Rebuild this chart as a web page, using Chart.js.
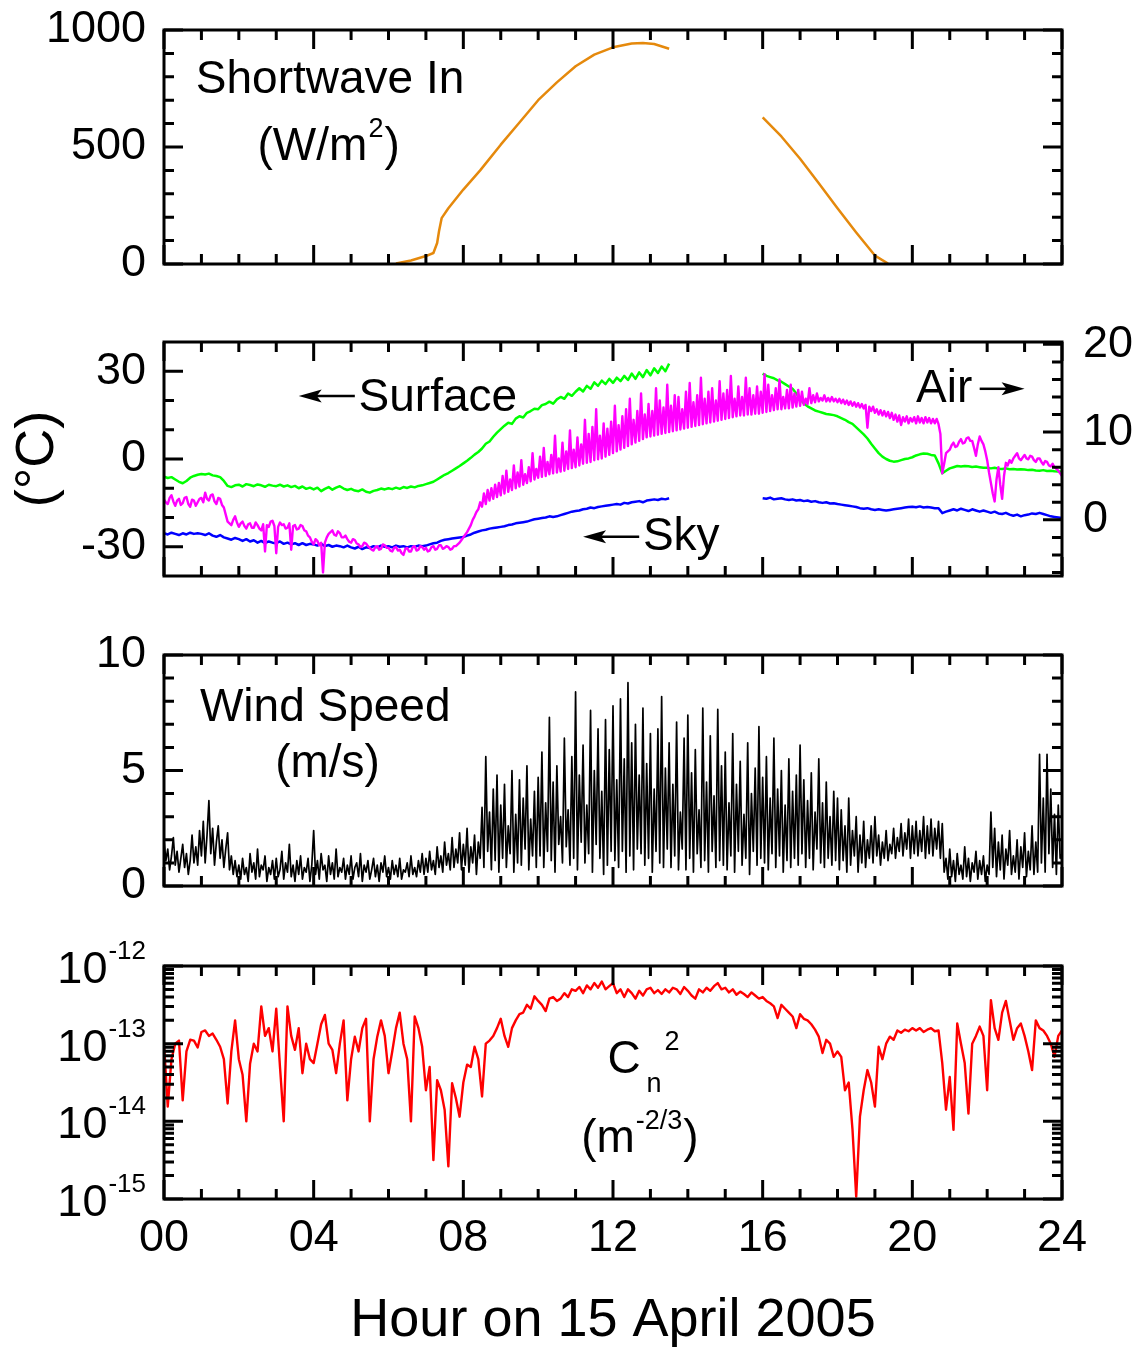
<!DOCTYPE html>
<html>
<head>
<meta charset="utf-8">
<title>Hour on 15 April 2005</title>
<script src="https://cdn.jsdelivr.net/npm/chart.js@4.4.1/dist/chart.umd.min.js"></script>
<style>
  html, body { margin: 0; padding: 0; background: #fff; }
  #page { position: relative; width: 1135px; height: 1349px; overflow: hidden; }
  #page canvas { position: absolute; left: 0; }
</style>
</head>
<body>
<div id="page">
  <canvas id="swChart" width="1135" height="294" style="top:0px"></canvas>
  <canvas id="tempChart" width="1135" height="301" style="top:305px"></canvas>
  <canvas id="windChart" width="1135" height="301" style="top:615px"></canvas>
  <canvas id="cn2Chart" width="1135" height="429" style="top:920px"></canvas>
</div>
<script>
// sampling times (hours): every 6 minutes, and every 3 minutes for the noisy series
const hours = Array.from({ length: 241 }, (_, i) => i / 10);
const fineHours = Array.from({ length: 481 }, (_, i) => i / 20);

// shortwave in (W/m2); null = missing data
const swHours  = [6.2, 6.6, 7.0, 7.2, 7.3, 7.35, 7.42, 7.6, 8.0, 8.45, 9.0, 9.5, 10.0, 10.5, 11.0, 11.5, 12.0, 12.5, 12.8, 13.1, 13.5, 14.8, 16.0, 16.5, 17.0, 17.5, 18.0, 18.5, 19.0, 19.35];
const swValues = [2, 15, 34, 47, 90, 140, 196, 238, 318, 400, 510, 605, 700, 776, 845, 895, 926, 942, 944, 940, 920, null, 627, 545, 450, 345, 238, 135, 36, 2];

// surface temperature (degC, left axis), 6-minute readings
const surfaceTemp = [
  -6.0, -6.5, -6.2, -7.0, -7.8, -8.3, -7.5, -6.4, -5.8, -5.4,
  -5.1, -5.3, -5.0, -5.6, -5.8, -6.2, -7.5, -9.2, -9.6, -9.0,
  -8.8, -9.4, -8.6, -8.9, -9.3, -8.7, -9.0, -9.5, -8.8, -9.1,
  -9.3, -8.8, -9.4, -9.0, -9.6, -9.2, -10.0, -9.4, -10.2, -9.8,
  -10.4, -9.8, -11.0, -10.2, -9.6, -10.5, -9.8, -9.3, -10.1, -10.6,
  -10.2, -10.8, -11.0, -10.4, -11.2, -11.5, -10.9, -10.6, -10.1, -10.4,
  -10.0, -10.3, -9.8, -10.2, -9.6, -9.9, -9.4, -9.7, -9.2, -9.0,
  -8.6, -8.2, -7.8, -7.0, -6.2, -5.4, -4.8, -4.0, -3.2, -2.4,
  -1.5, -0.6, 0.4, 1.5, 2.4, 3.6, 5.2, 6.0, 7.6, 9.0,
  10.2, 11.4, 12.4, 12.0, 13.8, 14.6, 14.2, 15.8, 16.4, 17.2,
  17.0, 18.4, 18.8, 19.6, 18.9, 20.4, 21.2, 20.6, 22.4, 21.6,
  23.0, 24.2, 23.1, 25.0, 24.0, 26.2, 25.0, 26.8, 25.6, 27.4,
  26.0, 27.8, 26.6, 28.4, 27.0, 29.2, 27.4, 29.6, 28.0, 30.4,
  28.6, 31.0, 29.4, 31.6, 30.0, 32.6, null, null, null, null,
  null, null, null, null, null, null, null, null, null, null,
  null, null, null, null, null, null, null, null, null, null,
  29.2, 28.4, 28.0, 27.6, 26.9, 26.4, 25.6, 24.8, 24.0, 22.4,
  20.6, 19.0, 18.0, 17.3, 16.6, 16.2, 15.8, 15.4, 15.2, 15.0,
  14.6, 14.0, 13.4, 12.6, 12.0, 10.8, 9.6, 8.4, 7.0, 5.2,
  3.6, 2.0, 0.8, 0.0, -0.6, -0.9, -0.8, -0.4, 0.0, 0.2,
  0.6, 1.2, 1.6, 1.9, 1.8, 1.4, 1.2, -1.5, -4.9, -4.0,
  -3.2, -2.8, -2.4, -2.6, -2.4, -2.5, -2.7, -2.6, -2.8, -3.0,
  -3.0, -3.2, -3.0, -3.3, -3.4, -3.2, -3.5, -3.4, -3.6, -3.5,
  -3.6, -3.8, -3.7, -3.9, -4.0, -3.8, -4.1, -4.0, -4.2, -4.3,
  -4.4
];

// sky temperature (degC, left axis), 6-minute readings
const skyTemp = [
  -25.4, -25.8, -25.2, -25.6, -26.0, -25.4, -25.8, -25.2, -25.6, -25.4,
  -25.6, -26.0, -25.4, -26.2, -26.6, -26.0, -26.8, -27.2, -27.6, -27.0,
  -27.4, -28.0, -27.4, -28.2, -27.8, -28.6, -28.0, -28.8, -28.2, -28.6,
  -28.8, -28.2, -29.0, -28.6, -29.2, -28.8, -29.4, -28.8, -29.4, -29.0,
  -29.2, -29.6, -29.0, -29.8, -29.4, -30.0, -29.6, -29.8, -30.2, -29.6,
  -30.2, -30.6, -30.0, -30.8, -30.2, -30.4, -29.8, -30.2, -29.6, -30.0,
  -29.8, -30.2, -29.6, -30.0, -29.8, -30.2, -29.8, -30.0, -29.6, -29.8,
  -29.6, -29.2, -28.8, -28.6, -28.0, -27.6, -27.4, -27.2, -27.0, -26.8,
  -26.7, -26.2, -25.8, -25.2, -24.8, -24.4, -24.2, -23.8, -23.6, -23.4,
  -23.2, -23.0, -22.6, -22.4, -22.0, -21.8, -21.6, -21.4, -21.0, -20.6,
  -20.4, -20.2, -20.0, -19.6, -19.8, -19.6, -19.2, -18.8, -18.4, -18.0,
  -17.8, -17.6, -17.2, -17.0, -16.6, -16.8, -16.4, -16.2, -16.0, -15.8,
  -15.6, -15.4, -15.6, -15.0, -15.2, -14.8, -14.6, -14.4, -14.8, -14.2,
  -14.0, -13.8, -14.0, -13.6, -13.8, -13.4, null, null, null, null,
  null, null, null, null, null, null, null, null, null, null,
  null, null, null, null, null, null, null, null, null, null,
  -13.4, -13.6, -13.2, -13.8, -13.6, -13.4, -13.8, -14.0, -13.8, -14.2,
  -14.0, -14.4, -14.2, -14.6, -14.4, -14.8, -15.0, -14.8, -15.2, -15.1,
  -15.4, -15.6, -15.8, -16.0, -16.2, -16.4, -16.8, -17.0, -16.8, -17.2,
  -17.4, -17.2, -17.4, -17.6, -17.4, -17.2, -17.0, -16.8, -16.6, -16.4,
  -16.3, -16.5, -16.2, -16.6, -16.4, -16.6, -16.8, -16.8, -18.5, -18.0,
  -17.6, -17.2, -17.6, -17.0, -17.4, -17.8, -17.2, -17.6, -18.0, -17.6,
  -18.0, -18.4, -18.0, -18.6, -18.8, -18.4, -19.0, -19.4, -19.0, -19.6,
  -19.2, -19.0, -18.6, -18.8, -18.4, -18.8, -19.2, -19.6, -19.8, -20.0,
  -20.2
];

// air temperature (degC, right axis), 3-minute readings
const airTemp = [
  2.3, 2.0, 1.8, 2.5, 2.8, 2.1, 1.6, 2.2, 2.4, 1.7, 1.9, 2.5, 2.6, 1.8, 1.5, 2.3, 2.2, 1.6, 2.0, 2.4,
  2.5, 2.0, 3.1, 2.4, 2.2, 2.8, 2.9, 2.1, 1.8, 2.5, 2.4, 1.7, 1.4, 0.6, -0.2, -0.4, -0.6, 0.0, 0.4, -0.3,
  -0.8, -0.4, -0.2, -0.7, -1.0, -0.5, -0.4, -0.9, -0.9, -0.3, -0.6, -1.0, -1.2, -0.5, -3.6, -0.6, -0.8, -0.2, -0.1, -0.7,
  -3.8, -0.8, -0.3, -0.6, -0.5, -1.0, -0.9, -0.4, -3.4, -0.7, -0.6, -1.1, -1.0, -0.6, -0.7, -1.2, -1.3, -1.8, -2.0, -2.5,
  -2.8, -2.2, -2.4, -2.9, -2.6, -6.0, -2.6, -2.0, -1.6, -1.4, -1.2, -1.7, -1.8, -1.3, -1.5, -2.0, -2.0, -1.8, -2.2, -2.5,
  -2.6, -2.2, -2.3, -2.7, -2.8, -3.1, -3.0, -2.6, -2.7, -3.0, -3.2, -3.4, -3.5, -3.1, -3.0, -3.4, -3.3, -2.8, -2.9, -3.2,
  -3.2, -3.5, -3.6, -3.2, -3.1, -3.5, -3.4, -3.8, -4.0, -3.3, -3.2, -3.6, -3.6, -3.1, -3.0, -3.5, -3.4, -3.0, -3.1, -3.4,
  -3.2, -3.6, -3.5, -3.1, -3.0, -3.4, -3.3, -2.9, -2.9, -3.3, -3.2, -3.0, -3.1, -3.4, -3.3, -3.0, -3.0, -2.8, -2.6, -2.3,
  -2.0, -1.7, -1.4, -1.0, -0.6, 0.0, 0.4, 0.9, 1.2, 2.0, 1.5, 3.0, 1.8, 3.4, 2.2, 3.6, 2.4, 4.0, 2.6, 4.2,
  2.8, 5.0, 3.0, 5.6, 3.2, 4.6, 3.4, 6.2, 3.6, 5.4, 3.8, 6.8, 4.0, 5.2, 4.2, 6.0, 4.4, 7.6, 4.6, 5.8,
  4.8, 7.2, 4.9, 8.2, 5.0, 6.6, 5.2, 7.4, 5.3, 9.6, 5.4, 7.0, 5.5, 8.8, 5.6, 7.8, 5.8, 10.2, 5.9, 8.0,
  6.0, 9.4, 6.2, 8.6, 6.4, 11.4, 6.5, 9.8, 6.6, 10.6, 6.8, 12.6, 6.9, 9.6, 7.0, 11.0, 7.2, 10.4, 7.4, 11.2,
  7.6, 13.0, 7.8, 10.8, 8.0, 11.8, 8.2, 12.6, 8.4, 13.8, 8.6, 11.4, 8.8, 12.4, 9.0, 14.4, 9.2, 12.0, 9.4, 13.2,
  9.5, 12.4, 9.6, 15.0, 9.7, 13.6, 9.8, 12.8, 9.9, 15.4, 10.0, 13.0, 10.1, 14.2, 10.2, 14.0, 10.3, 12.6, 10.4, 14.6,
  10.5, 15.6, 10.6, 13.4, 10.7, 14.2, 10.8, 16.2, 10.9, 13.8, 11.0, 14.6, 11.1, 15.0, 11.2, 13.6, 11.3, 15.8, 11.4, 14.4,
  11.5, 14.8, 11.6, 16.4, 11.7, 13.8, 11.8, 15.2, 11.9, 14.0, 11.9, 16.2, 12.0, 15.0, 12.0, 14.2, 12.1, 15.2, 12.1, 14.6,
  12.2, 16.6, 12.3, 15.4, 12.4, 14.2, 12.5, 15.0, 12.6, 16.0, 12.6, 14.0, 12.7, 14.8, 12.7, 15.4, 12.8, 14.4, 12.9, 14.8,
  13.0, 14.6, 13.1, 13.8, 13.2, 15.0, 13.3, 14.2, 13.4, 14.4, 13.5, 13.9, 13.6, 14.2, 13.5, 13.9, 13.5, 14.0, 13.5, 13.8,
  13.4, 13.8, 13.3, 13.7, 13.2, 13.6, 13.1, 13.5, 13.0, 13.4, 12.9, 13.3, 12.8, 13.2, 12.7, 13.1, 10.5, 12.9, 12.4, 12.9,
  12.2, 12.6, 12.0, 12.5, 11.9, 12.4, 11.8, 12.3, 11.6, 12.2, 11.4, 12.0, 11.2, 11.9, 10.8, 11.7, 11.2, 11.8, 11.0, 11.6,
  11.2, 11.7, 11.0, 11.8, 11.1, 11.6, 11.0, 11.7, 11.1, 11.6, 11.0, 11.5, 11.0, 11.5, 10.9, 9.8, 5.3, 6.4, 7.6, 7.8,
  8.0, 8.5, 8.8, 8.3, 8.4, 8.9, 9.2, 8.7, 8.8, 9.3, 9.4, 9.0, 9.0, 8.2, 7.3, 8.6, 9.5, 9.0, 8.6, 7.8,
  6.8, 5.4, 4.2, 3.0, 2.1, 4.6, 6.0, 4.0, 2.4, 5.0, 6.5, 6.2, 6.8, 6.5, 7.0, 7.3, 7.6, 7.0, 6.8, 7.1,
  7.4, 7.0, 6.9, 7.3, 7.2, 6.8, 6.6, 7.0, 7.0, 6.6, 6.3, 6.7, 6.6, 6.2, 6.1, 6.4, 6.0, 5.8, 5.6, 5.3,
  5.0
];

// wind speed (m/s), 3-minute readings
const windSpeed = [
  2.0, 1.1, 1.6, 0.7, 1.3, 2.1, 0.9, 1.5, 0.6, 1.2, 1.8, 0.8, 1.4, 0.5, 1.1, 2.2, 1.0, 1.7, 0.9, 2.4,
  1.3, 2.8, 1.0, 2.2, 3.7, 1.4, 2.5, 0.9, 1.9, 2.6, 1.2, 2.0, 0.8, 1.6, 2.3, 0.7, 1.3, 0.5, 1.1, 0.4,
  0.9, 0.3, 1.2, 0.5, 0.8, 0.2, 1.4, 0.6, 1.0, 0.3, 1.6, 0.4, 0.9, 0.7, 1.3, 0.2, 0.8, 0.5, 1.1, 0.3,
  1.2, 0.4, 0.7, 1.5, 0.3, 1.0, 0.6, 1.8, 0.4, 0.9, 0.2, 1.1, 0.5, 1.3, 0.3, 0.8, 0.6, 1.2, 0.2, 0.9,
  2.4, 0.5, 1.1, 0.3, 1.4, 0.7, 0.9, 0.2, 1.3, 0.5, 1.0, 0.3, 1.6, 0.4, 0.8, 0.6, 1.2, 0.3, 0.9, 0.5,
  1.3, 0.3, 0.8, 1.0, 0.4, 1.4, 0.2, 0.9, 0.6, 1.1, 0.3, 0.7, 1.2, 0.4, 0.9, 0.2, 1.0, 0.6, 1.3, 0.4,
  0.8, 0.3, 1.1, 0.5, 0.9, 0.4, 1.2, 0.3, 0.7, 0.6, 1.0, 0.4, 1.3, 0.5, 0.8, 0.4, 1.1, 0.6, 1.4, 0.5,
  1.2, 0.6, 1.5, 0.7, 1.1, 0.5, 1.7, 0.8, 1.3, 0.6, 1.9, 0.9, 1.4, 0.7, 2.1, 0.8, 1.6, 1.0, 2.3, 0.7,
  1.8, 0.9, 2.5, 0.6, 1.7, 1.0, 2.2, 0.5, 1.9, 1.2, 3.4, 0.8, 5.6, 1.5, 3.2, 0.7, 4.2, 1.1, 4.8, 0.6,
  3.5, 1.2, 4.4, 0.8, 2.6, 1.4, 5.0, 0.6, 3.1, 1.0, 4.6, 0.9, 3.8, 1.6, 5.2, 0.7, 2.9, 1.3, 4.1, 0.8,
  4.7, 1.3, 5.8, 0.8, 3.6, 1.5, 7.3, 1.1, 4.5, 0.6, 5.2, 1.8, 3.0, 1.0, 6.4, 1.7, 3.3, 0.9, 5.6, 1.2,
  8.4, 0.7, 4.8, 1.9, 6.1, 1.0, 3.5, 1.4, 7.6, 0.6, 5.0, 1.8, 6.8, 1.2, 4.1, 0.5, 7.2, 0.9, 5.9, 1.5,
  7.8, 1.1, 4.6, 0.8, 8.1, 1.5, 5.5, 0.6, 8.8, 1.3, 6.2, 0.7, 7.0, 1.6, 4.8, 1.4, 7.7, 0.9, 5.3, 1.2,
  6.6, 0.6, 4.2, 1.5, 6.8, 1.0, 8.2, 0.8, 5.1, 1.6, 6.2, 0.8, 4.4, 1.3, 7.1, 0.7, 3.2, 1.6, 6.4, 0.7,
  7.4, 1.2, 4.9, 0.6, 5.9, 1.4, 3.3, 0.8, 7.7, 1.1, 4.5, 0.6, 6.5, 1.5, 3.9, 0.8, 7.65, 1.1, 5.2, 0.9,
  5.8, 0.7, 3.6, 1.3, 6.6, 0.6, 4.4, 1.5, 5.4, 0.9, 3.1, 1.2, 6.2, 0.5, 4.0, 1.5, 5.1, 0.9, 6.9, 1.2,
  4.7, 1.0, 5.6, 0.7, 3.8, 1.4, 6.4, 0.8, 4.2, 1.3, 5.0, 0.6, 3.5, 1.1, 5.5, 0.8, 4.1, 1.2, 4.8, 0.9,
  6.1, 1.4, 4.6, 0.8, 3.7, 1.2, 4.9, 0.7, 3.2, 1.6, 5.5, 1.0, 3.6, 0.8, 4.5, 1.2, 3.0, 0.9, 4.1, 1.1,
  3.8, 0.7, 3.3, 1.1, 2.6, 0.6, 3.8, 0.9, 2.4, 1.3, 3.0, 0.6, 2.2, 1.0, 2.8, 0.8, 2.0, 1.2, 2.6, 1.0,
  3.0, 1.3, 2.2, 0.9, 1.9, 1.2, 2.4, 1.1, 1.8, 1.4, 2.5, 1.2, 2.1, 1.5, 2.7, 1.3, 2.3, 1.6, 2.9, 1.2,
  2.6, 1.4, 2.8, 1.3, 2.4, 1.5, 3.0, 1.2, 2.6, 1.4, 2.9, 1.3, 2.5, 1.6, 2.8, 1.2, 2.7, 0.6, 1.2, 0.3,
  1.6, 0.4, 1.1, 0.2, 1.4, 0.5, 0.9, 0.3, 1.7, 0.4, 1.2, 0.2, 1.0, 0.6, 1.5, 0.3, 1.1, 0.5, 1.3, 0.2,
  0.9, 0.5, 3.2, 0.8, 2.5, 0.4, 1.9, 0.7, 2.2, 0.3, 1.6, 0.9, 2.4, 0.5, 1.3, 0.6, 2.0, 0.3, 1.7, 0.8,
  2.3, 0.4, 1.5, 0.7, 2.6, 0.5, 1.9, 0.6, 5.7, 1.0, 3.8, 0.6, 5.7, 1.4, 4.2, 0.8, 3.1, 0.5, 3.5, 1.2,
  1.4
];

// Cn2, stored as log10 of the value (m^-2/3), 6-minute readings
const cn2Log = [
  -13.0, -13.81, -13.2, -13.0, -12.96, -13.73, -13.1, -12.95, -12.96, -13.05,
  -12.85, -12.83, -12.9, -12.87, -12.95, -13.04, -13.2, -13.77, -13.1, -12.7,
  -13.2, -13.4, -14.0, -13.26, -13.0, -13.1, -12.52, -12.9, -12.8, -13.1,
  -12.55, -13.3, -14.0, -12.52, -12.9, -13.08, -12.8, -13.38, -13.0, -13.2,
  -13.25, -13.0, -12.75, -12.63, -13.0, -13.08, -13.38, -13.0, -12.7, -13.73,
  -13.2, -12.91, -13.1, -12.8, -12.68, -14.0, -13.2, -12.91, -12.7, -12.9,
  -13.38, -13.1, -12.8, -12.6, -13.0, -13.2, -14.0, -12.65, -12.8, -13.04,
  -13.6, -13.3, -14.5, -13.47, -13.6, -13.85, -14.58, -13.51, -13.7, -13.94,
  -13.5, -13.27, -13.3, -13.04, -13.2, -13.68, -13.0, -12.96, -12.9, -12.8,
  -12.68, -12.9, -13.04, -12.8, -12.7, -12.62, -12.6, -12.5, -12.55, -12.39,
  -12.45, -12.5, -12.58, -12.42, -12.4, -12.45, -12.42, -12.35, -12.4, -12.3,
  -12.32, -12.27, -12.35, -12.25, -12.3, -12.22, -12.28, -12.2, -12.3, -12.26,
  -12.22, -12.35, -12.3, -12.4, -12.3, -12.35, -12.42, -12.32, -12.38, -12.3,
  -12.28, -12.35, -12.31, -12.36, -12.3, -12.34, -12.28, -12.3, -12.36, -12.27,
  -12.32, -12.38, -12.42, -12.3, -12.34, -12.28, -12.32, -12.26, -12.22, -12.3,
  -12.28, -12.34, -12.3, -12.37, -12.33, -12.36, -12.4, -12.34, -12.38, -12.42,
  -12.4, -12.45, -12.48, -12.52, -12.67, -12.5, -12.55, -12.6, -12.65, -12.8,
  -12.62, -12.68, -12.7, -12.75, -12.82, -12.91, -13.12, -12.95, -13.0, -13.17,
  -13.1, -13.17, -13.6, -13.5, -14.1, -14.97, -13.94, -13.6, -13.34, -13.5,
  -13.81, -13.04, -13.2, -13.0, -12.91, -12.95, -12.83, -12.86, -12.82, -12.84,
  -12.8, -12.83, -12.8, -12.85, -12.82, -12.8, -12.84, -12.83, -13.25, -13.85,
  -13.43, -14.11, -12.74, -13.0, -13.25, -13.9, -13.0, -12.9, -12.78, -12.9,
  -13.6, -12.44, -12.8, -12.95, -12.6, -12.45, -12.7, -12.95, -12.8, -12.74,
  -12.9, -13.1, -13.34, -12.7, -12.8, -12.83, -12.9, -13.0, -13.17, -12.9,
  -12.83
];

// axis ticks
const xMajor = [0, 4, 8, 12, 16, 20, 24];
const hourTicks = Array.from({ length: 25 }, (_, i) => i);
const swMajor = [0, 500, 1000];
const swMinor = [100, 200, 300, 400, 600, 700, 800, 900];
const tempMajor = [-30, 0, 30];
const tempMinor = [-20, -10, 10, 20];
const airMajor = [0, 10, 20];
const airMinor = [-6, -4, -2, 2, 4, 6, 8, 12, 14, 16, 18];
const windMajor = [0, 5, 10];
const windMinor = [1, 2, 3, 4, 6, 7, 8, 9];
const cn2Exp = [-15, -14, -13, -12];
const cn2Major = cn2Exp.map(e => Math.pow(10, e));
const cn2Minor = [];
[-15, -14, -13].forEach(e => { for (let k = 2; k <= 9; k++) cn2Minor.push(k * Math.pow(10, e)); });

const FONT = "'Liberation Sans', Arial, sans-serif";
const TICK_SIZE = 45;
const NOTE_SIZE = 46;
const SUP_SIZE = 27;
const PLOT_LEFT = 164;
const RIGHT_GAP = 73;

const pts = (xs, ys) => ys.map((v, i) => ({ x: xs[i], y: v }));

// frame + inward ticks on all four sides
const framePlugin = {
  id: 'frame',
  afterDatasetsDraw(chart, args, opts) {
    const { ctx, chartArea: a, scales } = chart;
    ctx.save();
    ctx.strokeStyle = '#000';
    ctx.lineWidth = 3;
    ctx.lineCap = 'butt';
    ctx.beginPath();
    hourTicks.forEach(h => {
      const px = scales.x.getPixelForValue(h);
      const len = xMajor.includes(h) ? 19 : 10;
      ctx.moveTo(px, a.bottom); ctx.lineTo(px, a.bottom - len);
      ctx.moveTo(px, a.top); ctx.lineTo(px, a.top + len);
    });
    [['left', a.left, 1], ['right', a.right, -1]].forEach(([side, x0, dir]) => {
      const o = opts[side];
      if (!o) return;
      const sc = scales[o.scale];
      o.major.forEach(v => { const py = sc.getPixelForValue(v); ctx.moveTo(x0, py); ctx.lineTo(x0 + dir * 19, py); });
      o.minor.forEach(v => { const py = sc.getPixelForValue(v); ctx.moveTo(x0, py); ctx.lineTo(x0 + dir * 10, py); });
    });
    ctx.stroke();
    ctx.strokeRect(a.left, a.top, a.width, a.height);
    ctx.restore();
  }
};

// panel captions, arrows, rotated unit and log tick labels
const notesPlugin = {
  id: 'notes',
  afterDraw(chart, args, opts) {
    const { ctx, chartArea: a, scales } = chart;
    ctx.save();
    ctx.fillStyle = '#000';
    ctx.strokeStyle = '#000';
    ctx.textBaseline = 'alphabetic';
    (opts.items || []).forEach(it => {
      const sc = scales[it.scale || 'y'];
      if (it.type === 'text') {
        let x = scales.x.getPixelForValue(it.h);
        const y = sc.getPixelForValue(it.v);
        ctx.textAlign = 'left';
        it.parts.forEach(([t, size, dy, gap]) => {
          ctx.font = size + 'px ' + FONT;
          x += gap || 0;
          ctx.fillText(t, x, y + (dy || 0));
          x += ctx.measureText(t).width;
        });
      } else if (it.type === 'arrow') {
        const x1 = scales.x.getPixelForValue(it.h1);
        const x2 = scales.x.getPixelForValue(it.h2);
        const y = sc.getPixelForValue(it.v);
        const head = it.dir === 'left' ? x1 : x2;
        const tail = it.dir === 'left' ? x2 : x1;
        const s = it.dir === 'left' ? 1 : -1;
        ctx.lineWidth = 2.5;
        ctx.beginPath();
        ctx.moveTo(tail, y); ctx.lineTo(head + s * 14, y);
        ctx.stroke();
        ctx.beginPath();
        ctx.moveTo(head, y);
        ctx.lineTo(head + s * 23, y - 6.5);
        ctx.lineTo(head + s * 18, y);
        ctx.lineTo(head + s * 23, y + 6.5);
        ctx.closePath();
        ctx.fill();
      } else if (it.type === 'vtext') {
        ctx.translate(a.left - it.dx, (a.top + a.bottom) / 2);
        ctx.rotate(-Math.PI / 2);
        ctx.textAlign = 'center';
        ctx.textBaseline = 'middle';
        ctx.font = it.size + 'px ' + FONT;
        ctx.fillText(it.text, 0, 0);
        ctx.setTransform(1, 0, 0, 1, 0, 0);
        ctx.textBaseline = 'alphabetic';
      } else if (it.type === 'logLabels') {
        it.exps.forEach(e => {
          const y = sc.getPixelForValue(Math.pow(10, e));
          const right = a.left - 18;
          ctx.textAlign = 'right';
          ctx.font = '26px ' + FONT;
          const ex = String(e);
          ctx.fillText(ex, right, y - 7);
          const w = ctx.measureText(ex).width;
          ctx.font = TICK_SIZE + 'px ' + FONT;
          ctx.fillText('10', right - w - 1, y + 17);
        });
      }
    });
    ctx.restore();
  }
};

Chart.register(framePlugin, notesPlugin);

function xAxis(show) {
  return {
    type: 'linear', min: 0, max: 24, display: show,
    grid: { display: false, tickLength: 8 }, border: { display: false },
    afterBuildTicks: s => { s.ticks = xMajor.map(v => ({ value: v })); },
    ticks: {
      font: { family: FONT, size: TICK_SIZE }, color: '#000', padding: 5,
      maxRotation: 0, autoSkip: false,
      callback: v => String(v).padStart(2, '0')
    },
    title: { display: show, text: 'Hour on 15 April 2005', color: '#000',
             font: { family: FONT, size: 54, lineHeight: 1.05 }, padding: { top: 0, bottom: 0 } },
    afterFit: s => { if (show) s.height = 150; }
  };
}

// tick labels sit tickLength px off the frame (tick marks themselves are drawn by the frame plugin)
function yAxis(min, max, major, opts = {}) {
  return Object.assign({
    type: 'linear', min, max, position: 'left',
    grid: { display: false, tickLength: 18 }, border: { display: false },
    afterBuildTicks: s => { s.ticks = major.map(v => ({ value: v })); },
    ticks: { font: { family: FONT, size: TICK_SIZE }, color: '#000', padding: 0, callback: v => String(v) },
    afterFit: s => { s.width = PLOT_LEFT; }
  }, opts);
}

function baseOptions(padding, scales, frame, items) {
  return {
    responsive: false, animation: false, devicePixelRatio: 1,
    layout: { padding },
    scales,
    plugins: { legend: { display: false }, tooltip: { enabled: false }, frame, notes: { items } }
  };
}

const lineStyle = (color, width) => ({
  borderColor: color, borderWidth: width, pointRadius: 0, tension: 0,
  spanGaps: false, borderJoinStyle: 'round', fill: false
});

// panel 1: shortwave in
new Chart(document.getElementById('swChart'), {
  type: 'line',
  data: { datasets: [Object.assign({ data: pts(swHours, swValues) }, lineStyle('#E5890C', 2.5))] },
  options: baseOptions(
    { top: 30, bottom: 30, left: 0, right: RIGHT_GAP },
    { x: xAxis(false), y: yAxis(0, 1000, swMajor) },
    { left: { scale: 'y', major: swMajor, minor: swMinor }, right: { scale: 'y', major: swMajor, minor: swMinor } },
    [
      { type: 'text', h: 0.85, v: 731, parts: [['Shortwave In', NOTE_SIZE]] },
      { type: 'text', h: 2.5, v: 444, parts: [['(W/m', NOTE_SIZE], ['2', SUP_SIZE, -23, 1], [')', NOTE_SIZE, 0, 1]] }
    ]
  )
});

// panel 2: temperatures (surface and sky on the left axis, air on the right axis)
new Chart(document.getElementById('tempChart'), {
  type: 'line',
  data: {
    datasets: [
      Object.assign({ data: pts(fineHours, airTemp), yAxisID: 'yR', order: 0 }, lineStyle('#FF00FF', 2.4)),
      Object.assign({ data: pts(hours, surfaceTemp), yAxisID: 'y', order: 1 }, lineStyle('#00FF00', 2.5)),
      Object.assign({ data: pts(hours, skyTemp), yAxisID: 'y', order: 2 }, lineStyle('#0000FF', 2.5))
    ]
  },
  options: baseOptions(
    { top: 37, bottom: 30, left: 0, right: 0 },
    {
      x: xAxis(false),
      y: yAxis(-40, 40, tempMajor),
      yR: yAxis(-6.4, 20.27, airMajor, {
        position: 'right',
        grid: { display: false, tickLength: 21 },
        afterFit: s => { s.width = RIGHT_GAP; }
      })
    },
    { left: { scale: 'y', major: tempMajor, minor: tempMinor }, right: { scale: 'yR', major: airMajor, minor: airMinor } },
    [
      { type: 'arrow', h1: 3.6, h2: 5.1, v: 21.5, dir: 'left' },
      { type: 'text', h: 5.2, v: 16.4, parts: [['Surface', NOTE_SIZE]] },
      { type: 'text', h: 20.1, v: 19.5, parts: [['Air', NOTE_SIZE]] },
      { type: 'arrow', h1: 21.8, h2: 23.0, v: 24.0, dir: 'right' },
      { type: 'arrow', h1: 11.2, h2: 12.7, v: -26.6, dir: 'left' },
      { type: 'text', h: 12.8, v: -31.1, parts: [['Sky', NOTE_SIZE]] },
      { type: 'vtext', dx: 126, text: '(°C)', size: 54 }
    ]
  )
});

// panel 3: wind speed
new Chart(document.getElementById('windChart'), {
  type: 'line',
  data: { datasets: [Object.assign({ data: pts(fineHours, windSpeed) }, lineStyle('#000000', 1.7))] },
  options: baseOptions(
    { top: 40, bottom: 30, left: 0, right: RIGHT_GAP },
    { x: xAxis(false), y: yAxis(0, 10, windMajor) },
    { left: { scale: 'y', major: windMajor, minor: windMinor }, right: { scale: 'y', major: windMajor, minor: windMinor } },
    [
      { type: 'text', h: 0.96, v: 7.16, parts: [['Wind Speed', NOTE_SIZE]] },
      { type: 'text', h: 2.97, v: 4.74, parts: [['(m/s)', NOTE_SIZE]] }
    ]
  )
});

// panel 4: Cn2 (log scale) with the shared hour axis
new Chart(document.getElementById('cn2Chart'), {
  type: 'line',
  data: { datasets: [Object.assign({ data: pts(hours, cn2Log.map(e => Math.pow(10, e))) }, lineStyle('#FF0000', 2.4))] },
  options: baseOptions(
    { top: 46, bottom: 0, left: 0, right: RIGHT_GAP },
    {
      x: xAxis(true),
      y: {
        type: 'logarithmic', min: 1e-15, max: 1e-12, position: 'left',
        grid: { display: false }, border: { display: false },
        ticks: { display: false },
        afterFit: s => { s.width = PLOT_LEFT; }
      }
    },
    { left: { scale: 'y', major: cn2Major, minor: cn2Minor }, right: { scale: 'y', major: cn2Major, minor: cn2Minor } },
    [
      { type: 'logLabels', exps: cn2Exp },
      { type: 'text', h: 11.85, v: 4.2e-14, parts: [['C', NOTE_SIZE], ['n', SUP_SIZE, 19, 6], ['2', SUP_SIZE, -23, 3]] },
      { type: 'text', h: 11.15, v: 4.0e-15, parts: [['(m', NOTE_SIZE], ['-2/3', SUP_SIZE, -23, 1], [')', NOTE_SIZE, 0, 1]] }
    ]
  )
});
</script>
</body>
</html>
